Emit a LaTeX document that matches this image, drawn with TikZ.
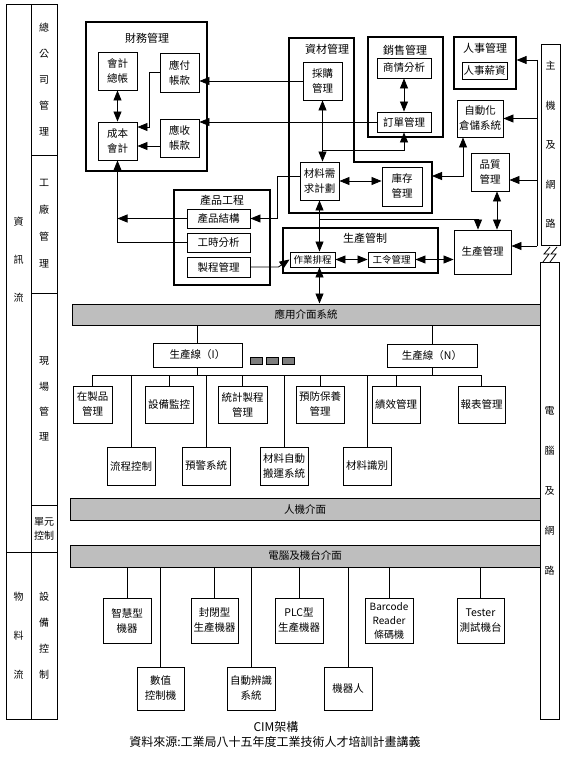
\documentclass[tikz,border=0pt]{standalone}
\usepackage{fontspec}
\setmainfont{Noto Sans CJK TC}
\usetikzlibrary{arrows.meta, positioning}
\definecolor{xBar}{RGB}{190,190,190}
\definecolor{xDot}{RGB}{125,125,125}
\newcommand{\Fs}[2]{\fontsize{#1}{#2}\selectfont}
\tikzset{
  box/.style={draw, line width=0.9pt, align=center, inner sep=1pt, font=\Fs{10.5}{15}},
  sz/.style 2 args={minimum width=#1pt, minimum height=#2pt},
  grp/.style={draw, line width=1.2pt, inner sep=0pt},
  ttl/.style={inner sep=1pt, font=\Fs{11}{13}},
  bar/.style={draw, line width=1pt, fill=xBar, minimum width=470pt, minimum height=22pt, inner sep=0pt, font=\Fs{10.5}{13}},
  col/.style={draw, line width=1pt, align=center, inner sep=0pt},
  link/.style={line width=0.8pt},
  arr/.style={-{Triangle[length=10pt,width=8pt]}, line width=0.8pt},
  dbl/.style={{Triangle[length=10pt,width=8pt]}-{Triangle[length=10pt,width=8pt]}, line width=0.8pt},
}

\begin{document}
\begin{tikzpicture}[x=1pt, y=-1pt]
  \useasboundingbox (0,0) rectangle (567,765);

  \node[col, sz={25}{547}, font=\Fs{10}{38}] (zxl) at (18.5,278.5) {資\\訊\\流\\~};
  \node[col, sz={25}{167}, font=\Fs{10}{39}] (wll) at (18.5,635.5) {物\\料\\流};
  \node[col, sz={26}{150}, font=\Fs{10}{26}] (zgs) at (44,80) {總\\公\\司\\管\\理};
  \node[col, sz={26}{138}, font=\Fs{10}{27}] (gcgl) at (44,224) {工\\廠\\管\\理};
  \node[col, sz={26}{212}, font=\Fs{10}{25.5}] (xcgl) at (44,399) {現\\場\\管\\理};
  \node[col, sz={26}{47}, font=\Fs{10}{14}] (dykz) at (44,528.5) {單元\\控制};
  \node[col, sz={26}{167}, font=\Fs{10}{26}] (sbkz) at (44,635.5) {設\\備\\控\\制};
  \node[col, sz={19}{200}, font=\Fs{10}{39.5}] (zjwl) at (550.5,145) {主\\機\\及\\網\\路};
  \node[col, sz={19}{457}, font=\Fs{10}{40}] (dnwl) at (549.5,490.5) {電\\腦\\及\\網\\路};
  \draw[link] (543,262) -- (549,254) -- (544,254) -- (550,247);
  \draw[link] (550,262) -- (556,254) -- (551,254) -- (557,247);

  \node[grp, sz={121}{149}] (cwgl) at (146.5,96.5) {};
  \node[ttl] (cwglT) at (147,38) {財務管理};
  \node[grp, sz={96}{95}] (cpgc) at (222,237.5) {};
  \node[ttl] (cpgcT) at (222,200) {產品工程};
  \draw[grp] (289,38) -- (354,38) -- (354,162) -- (432,162) -- (432,213) -- (289,213) -- cycle;
  \node[ttl] (zcglT) at (327,49) {資材管理};
  \node[grp, sz={75}{100}] (xsgl) at (405.5,87) {};
  \node[ttl] (xsglT) at (405,50) {銷售管理};
  \node[grp, sz={62}{52}] (rsgl) at (485,63) {};
  \node[ttl] (rsglT) at (485,48) {人事管理};
  \node[grp, sz={155}{45}] (sckz) at (360.5,250.5) {};
  \node[ttl] (sckzT) at (365,238) {生產管制};

  \node[box, sz={39}{38}] (hjzz) at (117.5,71) {會計\\總帳};
  \node[box, sz={39}{38}] (cbkj) at (117.5,141) {成本\\會計};
  \node[box, sz={39}{39}] (yfzk) at (179.5,72.5) {應付\\帳款};
  \node[box, sz={39}{38}] (yszk) at (179.5,138) {應收\\帳款};
  \node[box, sz={63}{19}] (cpjg) at (218.5,218.5) {產品結構};
  \node[box, sz={63}{19}] (gsfx) at (218.5,242.5) {工時分析};
  \node[box, sz={63}{20}] (zcgl) at (218.5,267) {製程管理};
  \node[box, sz={39}{38}] (cggl) at (322.5,81) {採購\\管理};
  \node[box, sz={39}{38}] (xqjh) at (319.5,181) {材料需\\求計劃};
  \node[box, sz={40}{39}] (kcgl) at (402,186.5) {庫存\\管理};
  \node[box, sz={54}{20}] (sqfx) at (404,68) {商情分析};
  \node[box, sz={54}{20}] (ddgl) at (404,122) {訂單管理};
  \node[box, sz={45}{17}] (rsxz) at (484.5,70.5) {人事薪資};
  \node[box, sz={46}{37}] (ccxt) at (480,118.5) {自動化\\倉儲系統};
  \node[box, sz={38}{38}] (pzgl) at (490,172) {品質\\管理};
  \node[box, sz={57}{44}] (scgl) at (482.5,252) {生產管理};
  \node[box, sz={45}{15}, font=\Fs{9.5}{11}] (zypc) at (312.5,259.5) {作業排程};
  \node[box, sz={47}{15}, font=\Fs{9.5}{11}] (glgl) at (391.5,259.5) {工令管理};

  \coordinate (busT) at (537,60);
  \coordinate (busB) at (537,246);
  \coordinate (zcE) at (432,176);
  \coordinate (jA) at (322.5,150);
  \coordinate (jB) at (319.5,219);

  \draw[dbl] (hjzz) -- (cbkj);
  \draw[arr] (yfzk.west) -- ++(-10,0) |- ([yshift=14pt]cbkj.east);
  \draw[arr] ([yshift=-8pt]yszk.west) -- ([yshift=-8pt]yszk.west -| cbkj.east);
  \draw[arr] (cggl.west) -- (cggl.west -| yfzk.east);
  \draw[arr] (ddgl.west) -- (ddgl.west -| yszk.east);
  \draw[arr] (gsfx.west) -| (cbkj.south);
  \draw[arr] (cpjg.west) -- (cpjg.west -| cbkj.south);
  \draw[arr] ([yshift=5pt]xqjh.west) -| ([xshift=27pt]cpjg.east) -- (cpjg.east);
  \draw[arr] (zcgl.east) -- ++(28,0) -- (zypc.west);
  \draw[dbl] (cggl.south) -- (cggl.south |- xqjh.north);
  \draw[arr] (jA) -| (ddgl.south);
  \draw[dbl] (sqfx) -- (ddgl);
  \draw[dbl] (xqjh.east) -- (xqjh.east -| kcgl.west);
  \draw[dbl] (zcE) -| ([xshift=-17pt]ccxt.south);
  \draw[dbl] (xqjh.south) -- (xqjh.south |- zypc.north);
  \draw[arr] (jB) -| ([xshift=-4.5pt]scgl.north);
  \draw[dbl] (zypc) -- (glgl);
  \draw[dbl] (glgl.east) -- (glgl.east -| scgl.west);
  \draw[dbl] ([xshift=7pt]pzgl.south) -- ([xshift=7pt]pzgl.south |- scgl.north);
  \draw[link] (busT) -- (busB);
  \draw[arr] (busT) -- (busT -| rsgl.east);
  \draw[arr] (ccxt.east -| busT) -- (ccxt.east);
  \draw[arr] ([yshift=-8pt]pzgl.east -| busT) -- ([yshift=-8pt]pzgl.east);
  \draw[arr] (busB) -- (busB -| scgl.east);

  \node[bar, minimum width=468pt, minimum height=21pt] (yyjm) at (306,314.5) {應用介面系統};
  \node[bar] (rjjm) at (305,509) {人機介面};
  \node[bar] (djjm) at (305,556) {電腦及機台介面};
  \draw[dbl] (zypc.south -| xqjh.south) -- (xqjh.south |- yyjm.north);

  \node[box, sz={89}{24}] (sx1) at (197.5,355) {生產線（I）};
  \node[box, sz={90}{23}] (sxn) at (432,355.5) {生產線（N）};
  \foreach \i/\x in {1/256,2/272,3/288}
    \node[draw, fill=xDot, inner sep=0pt, sz={12}{7}] (dot\i) at (\x,360.5) {};

  \node[box, sz={39}{37}] (zpgl) at (92.5,404.5) {在製品\\管理};
  \node[box, sz={48}{37}] (sbjk) at (169,404.5) {設備監控};
  \node[box, sz={49}{37}] (tjzc) at (242.5,404.5) {統計製程\\管理};
  \node[box, sz={48}{37}] (yfby) at (320,404.5) {預防保養\\管理};
  \node[box, sz={48}{37}] (jxgl) at (396,404.5) {績效管理};
  \node[box, sz={47}{37}] (bbgl) at (481.5,404.5) {報表管理};
  \node[box, sz={48}{38}] (lckz) at (131,466) {流程控制};
  \node[box, sz={48}{38}] (yjxt) at (206,466) {預警系統};
  \node[box, sz={48}{38}] (byxt) at (284,466) {材料自動\\搬運系統};
  \node[box, sz={48}{38}] (clsb) at (367,466) {材料識別};

  \coordinate (tree) at (0,375);
  \draw[link] (zpgl.north |- tree) -- (bbgl.north |- tree);
  \draw[link] (sx1.north) -- (sx1.north |- yyjm.south);
  \draw[link] (sxn.north) -- (sxn.north |- yyjm.south);
  \draw[link] (sx1.south) -- (sx1.south |- tree);
  \draw[link] (sxn.south) -- (sxn.south |- tree);
  \foreach \b in {zpgl,sbjk,tjzc,yfby,jxgl,bbgl,lckz,yjxt,byxt,clsb}
    \draw[link] (\b.north) -- (\b.north |- tree);

  \node[box, sz={48}{45}] (zhjq) at (127,620.5) {智慧型\\機器};
  \node[box, sz={47}{45}] (fbjq) at (214.5,620.5) {封閉型\\生產機器};
  \node[box, sz={48}{45}] (plc) at (299,620.5) {PLC型\\生產機器};
  \node[box, sz={48}{45}, font=\Fs{10}{14}] (tmj) at (389,620.5) {Barcode\\Reader\\條碼機};
  \node[box, sz={47}{45}] (cs) at (480.5,620.5) {Tester\\測試機台};
  \node[box, sz={47}{43}] (szkz) at (160.5,688.5) {數值\\控制機};
  \node[box, sz={48}{43}] (zdbs) at (251,688.5) {自動辨識\\系統};
  \node[box, sz={48}{43}] (jqr) at (348,688.5) {機器人};
  \foreach \b in {zhjq,fbjq,plc,tmj,cs,szkz,zdbs,jqr}
    \draw[link] (\b.north) -- (\b.north |- djjm.south);

  \node[inner sep=0pt, font=\Fs{12}{14}] (cap) at (276,727) {CIM架構};
  \node[inner sep=0pt, font=\Fs{12}{14}] (src) at (275,742) {資料來源:工業局八十五年度工業技術人才培訓計畫講義};
\end{tikzpicture}
\end{document}
